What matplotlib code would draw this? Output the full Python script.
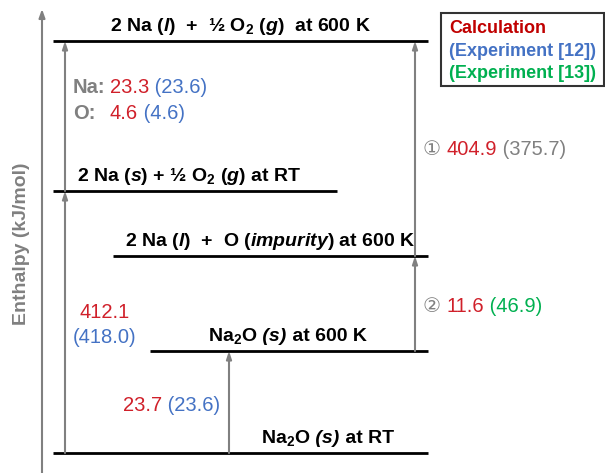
"""Enthalpy level diagram for Na / O2 / Na2O (schematic, not to scale)."""

import matplotlib
matplotlib.use("Agg")
import matplotlib.pyplot as plt

plt.rcParams["font.family"] = ["Liberation Sans", "DejaVu Sans"]
plt.rcParams["mathtext.fontset"] = "custom"
plt.rcParams["mathtext.rm"] = "Liberation Sans:bold"
plt.rcParams["mathtext.it"] = "Liberation Sans:italic:bold"
plt.rcParams["mathtext.bf"] = "Liberation Sans:bold"

RED = "#d0202a"
DARK_RED = "#c00000"
BLUE = "#4472c4"
GREEN = "#00b050"
GRAY = "#808080"

# schematic level heights (layout units, larger = higher enthalpy)
level_names = ["top_600K", "elements_RT", "impurity_600K", "oxide_600K", "oxide_RT"]
level_height = [432, 282, 217, 122, 20]
level_x0 = [53, 53, 113, 150, 53]
level_x1 = [428, 337, 428, 428, 428]
level_labels = [
    "2 Na ($l$)  +  ½ O$_2$ ($g$)  at 600 K",
    "2 Na ($s$) + ½ O$_2$ ($g$) at RT",
    "2 Na ($l$)  +  O ($impurity$) at 600 K",
    None,
    None,
]
label_center_x = [240, 189, 270, 288, 328]

# oxide levels: formula, italic phase, condition (left-aligned chains)
oxide_levels = [("oxide_600K", 208, " at 600 K"), ("oxide_RT", 261, " at RT")]

# arrows: (x, from level, to level)
arrows = [
    (65, "oxide_RT", "elements_RT"),
    (65, "elements_RT", "top_600K"),
    (229, "oxide_RT", "oxide_600K"),
    (415, "oxide_600K", "impurity_600K"),
    (415, "impurity_600K", "top_600K"),
]

# calculated / experimental values
na_fusion = ("23.3", "23.6")
o_fusion = ("4.6", "4.6")
formation = ("412.1", "418.0")
oxide_heat = ("23.7", "23.6")
step1 = ("404.9", "375.7")
step2 = ("11.6", "46.9")

H = dict(zip(level_names, level_height))
NUM_SIZE = 14.5
LAB_SIZE = 14

fig = plt.figure(figsize=(6.05, 4.73), dpi=100)
ax = fig.add_axes([0, 0, 1, 1])
ax.set_xlim(0, 605)
ax.set_ylim(0, 473)
ax.axis("off")

# enthalpy axis
ax.annotate("", xy=(42, 464), xytext=(42, 0),
            arrowprops=dict(arrowstyle="-|>,head_length=0.5,head_width=0.18",
                            color=GRAY, lw=1.5, shrinkA=0, shrinkB=0))
ax.text(22, 229, "Enthalpy (kJ/mol)", rotation=90, ha="center", va="center",
        color=GRAY, fontsize=14, fontweight="bold")


def pieces(x, y, parts, size=NUM_SIZE):
    """Write text pieces one after another on a shared baseline.
    Each part is (text, colour[, weight[, style]])."""
    prev = None
    for p in parts:
        kw = dict(color=p[1], fontsize=size, va="baseline",
                  fontweight=p[2] if len(p) > 2 else "normal",
                  fontstyle=p[3] if len(p) > 3 else "normal")
        if prev is None:
            prev = ax.text(x, y, p[0], **kw)
        else:
            prev = ax.annotate(p[0], xy=(1, y), xycoords=(prev, "data"), **kw)
    return prev


for h, x0, x1, lab, cx in zip(level_height, level_x0, level_x1, level_labels, label_center_x):
    ax.plot([x0, x1], [h, h], color="black", lw=2, solid_capstyle="butt")
    if lab:
        ax.text(cx, h + 10, lab, ha="center", va="baseline", fontsize=LAB_SIZE,
                fontweight="bold")

for name, x, cond in oxide_levels:
    pieces(x, H[name] + 10, [("Na$_2$O", "black", "bold"),
                             (" (s)", "black", "bold", "italic"),
                             (cond, "black", "bold")], size=LAB_SIZE)

for x, a, b in arrows:
    ax.annotate("", xy=(x, H[b]), xytext=(x, H[a]),
                arrowprops=dict(arrowstyle="-|>,head_length=0.45,head_width=0.15",
                                color=GRAY, lw=1.5, shrinkA=0, shrinkB=0))

ax.text(73, 380, "Na:", color=GRAY, fontsize=NUM_SIZE, fontweight="bold", va="baseline")
pieces(110, 380, [(na_fusion[0], RED), (" (%s)" % na_fusion[1], BLUE)])
ax.text(73, 354, "O:", color=GRAY, fontsize=NUM_SIZE, fontweight="bold", va="baseline")
pieces(110, 354, [(o_fusion[0], RED), (" (%s)" % o_fusion[1], BLUE)])

ax.text(79, 155, formation[0], color=RED, fontsize=NUM_SIZE, va="baseline")
ax.text(73, 130, "(%s)" % formation[1], color=BLUE, fontsize=NUM_SIZE, va="baseline")

pieces(123, 62, [(oxide_heat[0], RED), (" (%s)" % oxide_heat[1], BLUE)])

pieces(423, 318, [("① ", GRAY), (step1[0], RED), (" (%s)" % step1[1], GRAY)])
pieces(423, 161, [("② ", GRAY), (step2[0], RED), (" (%s)" % step2[1], GREEN)])

# legend box
ax.add_patch(plt.Rectangle((441, 387), 163, 73, fill=False, edgecolor="#333333", lw=1.5))
for txt, col, yy in [("Calculation", DARK_RED, 440),
                     ("(Experiment [12])", BLUE, 417),
                     ("(Experiment [13])", GREEN, 395)]:
    ax.text(449, yy, txt, color=col, fontsize=13, fontweight="bold", va="baseline")

fig.savefig("out.png", dpi=100)
